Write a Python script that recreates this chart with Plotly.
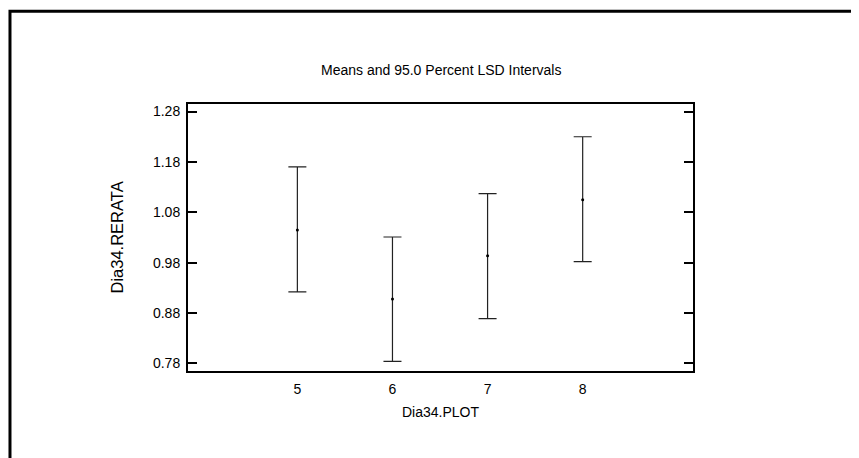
import plotly.graph_objects as go

plots = [5, 6, 7, 8]
means = [1.045, 0.908, 0.994, 1.105]
lower = [0.922, 0.784, 0.869, 0.982]
upper = [1.170, 1.031, 1.117, 1.230]
y_ticks = [0.78, 0.88, 0.98, 1.08, 1.18, 1.28]

FONT = "Liberation Sans, Arial, sans-serif"
FS = 14

fig = go.Figure()
fig.add_trace(go.Scatter(
    x=plots, y=means, mode="markers",
    marker=dict(color="black", size=3),
    error_y=dict(type="data", symmetric=False,
                 array=[u - m for u, m in zip(upper, means)],
                 arrayminus=[m - l for m, l in zip(means, lower)],
                 color="#222222", thickness=1.2, width=9),
    showlegend=False, hoverinfo="skip",
))

fig.update_layout(
    width=851, height=450,
    margin=dict(l=180, r=166, t=96, b=87),
    paper_bgcolor="white", plot_bgcolor="white",
    font=dict(family=FONT, size=FS, color="black"),
    xaxis=dict(range=[3.85, 9.16], tickvals=plots, ticks="outside", ticklen=2,
               tickcolor="rgba(0,0,0,0)", showgrid=False,
               zeroline=False, showline=True, linecolor="black", linewidth=2,
               mirror=True, tickfont=dict(size=FS), ticklabelstandoff=2),
    yaxis=dict(range=[0.765, 1.295], tickvals=y_ticks, tickformat=".2f",
               ticks="inside", ticklen=9, tickcolor="black", tickwidth=1.5,
               showgrid=False, zeroline=False, showline=True, linecolor="black",
               linewidth=2, mirror="ticks", tickfont=dict(size=FS),
               ticklabelstandoff=3),
    shapes=[dict(type="rect", xref="paper", yref="paper",
                 x0=-0.3525, x1=1.40, y0=-0.5, y1=1.347,
                 line=dict(color="black", width=3))],
    annotations=[
        dict(text="Means and 95.0 Percent LSD Intervals", xref="paper", yref="paper",
             x=0.5, y=1.127, xanchor="center", yanchor="middle",
             showarrow=False, font=dict(size=FS)),
        dict(text="Dia34.PLOT", xref="paper", yref="paper",
             x=0.5, y=-0.1536, xanchor="center", yanchor="middle",
             showarrow=False, font=dict(size=FS)),
        dict(text="Dia34.RERATA", xref="paper", yref="paper", textangle=-90,
             x=-0.1406, y=0.5, xanchor="center", yanchor="middle",
             showarrow=False, font=dict(size=16.5)),
    ],
)

fig.write_html("out.html")
